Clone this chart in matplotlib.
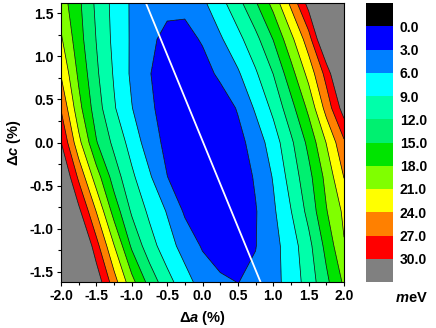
import numpy as np
import matplotlib
matplotlib.use("Agg")
import matplotlib.pyplot as plt
from matplotlib.colors import ListedColormap
from matplotlib.ticker import MultipleLocator, FormatStrFormatter

plt.rcParams['font.family'] = ['Liberation Sans', 'DejaVu Sans']
plt.rcParams['font.weight'] = 'bold'
plt.rcParams['mathtext.fontset'] = 'custom'
plt.rcParams['mathtext.it'] = 'Liberation Sans:italic:bold'
plt.rcParams['mathtext.rm'] = 'Liberation Sans:bold'
plt.rcParams['mathtext.bf'] = 'Liberation Sans:bold'

# ---- data ----
delta_a = [-2.0, -1.75, -1.5, -1.25, -1.0, -0.75, -0.5, -0.25, 0.0,
           0.25, 0.5, 0.75, 1.0, 1.25, 1.5, 1.75, 2.0]
delta_c = [-1.62, -1.2, -0.8, -0.4, 0.0, 0.4, 0.8, 1.2, 1.62]

# energy (meV), one row per delta_c value, columns follow delta_a
e_c_m162 = [47, 39, 32.1, 25.3, 19.0, 13.9, 10.1, 7.2, 4.7, 3.5, 2.95, 3.6, 5.0, 7.2, 10.3, 14.3, 18.5]
e_c_m120 = [42, 35.5, 28.1, 21.1, 14.5, 10.3, 7.3, 4.8, 2.7, 1.6, 1.8, 2.9, 5.0, 7.5, 11.1, 15.9, 20.8]
e_c_m080 = [38, 30.8, 23.9, 16.8, 11.6, 8.4, 5.8, 2.6, 1.3, 0.8, 1.3, 2.8, 5.5, 8.9, 12.9, 17.8, 21.6]
e_c_m040 = [34, 26.4, 19.4, 13.6, 9.6, 6.4, 3.05, 1.3, 0.3, 0.3, 1.2, 3.35, 6.2, 10.2, 14.05, 18.9, 24.1]
e_c_000 = [30.1, 21.9, 15.2, 11.25, 7.8, 4.45, 2.2, 0.9, 0.3, 0.6, 2.0, 4.3, 7.5, 11.4, 15.8, 21.1, 26.5]
e_c_p040 = [26.8, 19.0, 13.4, 9.3, 6.1, 3.6, 1.6, 0.7, 0.6, 1.3, 3.25, 6.4, 9.7, 13.9, 18.7, 25.1, 31.5]
e_c_p080 = [23.8, 17.4, 12.5, 8.7, 5.5, 3.1, 1.9, 1.3, 1.8, 3.6, 5.6, 8.6, 12.05, 16.8, 22.0, 28.1, 36]
e_c_p120 = [21.4, 16.2, 11.9, 8.25, 5.6, 3.45, 2.4, 2.0, 3.3, 5.6, 8.1, 11.1, 15.1, 20.1, 25.7, 34.5, 42]
e_c_p162 = [19.5, 15.6, 11.4, 8.1, 5.6, 4.4, 3.6, 3.8, 5.4, 8.0, 11.0, 14.7, 19.0, 24.7, 31.2, 39, 47]

levels = [0.0, 3.0, 6.0, 9.0, 12.0, 15.0, 18.0, 21.0, 24.0, 27.0, 30.0]
band_colors = ['#0000FF', '#0080FF', '#00FFFF', '#00FFAA', '#00F070',
               '#00E400', '#80FF00', '#FFFF00', '#FF8000', '#FF0000']
under_color = '#000000'
over_color = '#808080'

valley_a = [-0.80, 0.82]
valley_c = [1.62, -1.62]

# ---- figure ----
E = np.array([e_c_m162, e_c_m120, e_c_m080, e_c_m040, e_c_000,
              e_c_p040, e_c_p080, e_c_p120, e_c_p162])
A, C = np.meshgrid(delta_a, delta_c)

fig = plt.figure(figsize=(4.36, 3.28), dpi=100)
ax = fig.add_axes([61/436, 46/328, 283/436, 279/328])

fill_levels = [-1000.0] + levels + [1000.0]
fill_colors = [under_color] + band_colors + [over_color]
ax.contourf(A, C, E, levels=fill_levels, colors=fill_colors, antialiased=True)
ax.contour(A, C, E, levels=levels, colors='k', linewidths=0.5)
ax.plot(valley_a, valley_c, color='white', lw=1.3)

ax.set_xlim(-2.0, 2.0)
ax.set_ylim(-1.62, 1.62)
ax.xaxis.set_major_locator(MultipleLocator(0.5))
ax.xaxis.set_minor_locator(MultipleLocator(0.25))
ax.yaxis.set_major_locator(MultipleLocator(0.5))
ax.yaxis.set_minor_locator(MultipleLocator(0.25))
ax.xaxis.set_major_formatter(FormatStrFormatter('%.1f'))
ax.yaxis.set_major_formatter(FormatStrFormatter('%.1f'))
ax.tick_params(which='major', direction='out', length=3.2, width=0.8, labelsize=10, pad=2)
ax.tick_params(which='minor', direction='out', length=2.0, width=0.8)
for s in ax.spines.values():
    s.set_linewidth(0.8)
ax.set_xlabel(r'Δ$a$ (%)', fontsize=10.5, fontweight='bold', labelpad=4)
ax.set_ylabel(r'Δ$c$ (%)', fontsize=10.5, fontweight='bold', labelpad=5)

# ---- colour bar (0 at top, >30 at bottom) ----
cax = fig.add_axes([366/436, 46/328, 27/436, 279/328])
all_colors = [under_color] + band_colors + [over_color]
n = len(all_colors)
cax.pcolormesh([0, 1], np.arange(n + 1), np.arange(n).reshape(-1, 1),
               cmap=ListedColormap(all_colors), vmin=-0.5, vmax=n - 0.5)
cax.set_ylim(n, 0)
cax.set_xlim(0, 1)
cax.set_xticks([])
cax.yaxis.tick_right()
cax.set_yticks(np.arange(1, n))
cax.set_yticklabels(['%.1f' % v for v in levels])
cax.tick_params(axis='y', length=0, pad=5, labelsize=10)
for s in cax.spines.values():
    s.set_visible(False)

fig.text(411/436, 1 - 298/328, r'$m$eV', ha='center', va='center',
         fontsize=10.5, fontweight='bold')

fig.savefig('out.png', dpi=100)
